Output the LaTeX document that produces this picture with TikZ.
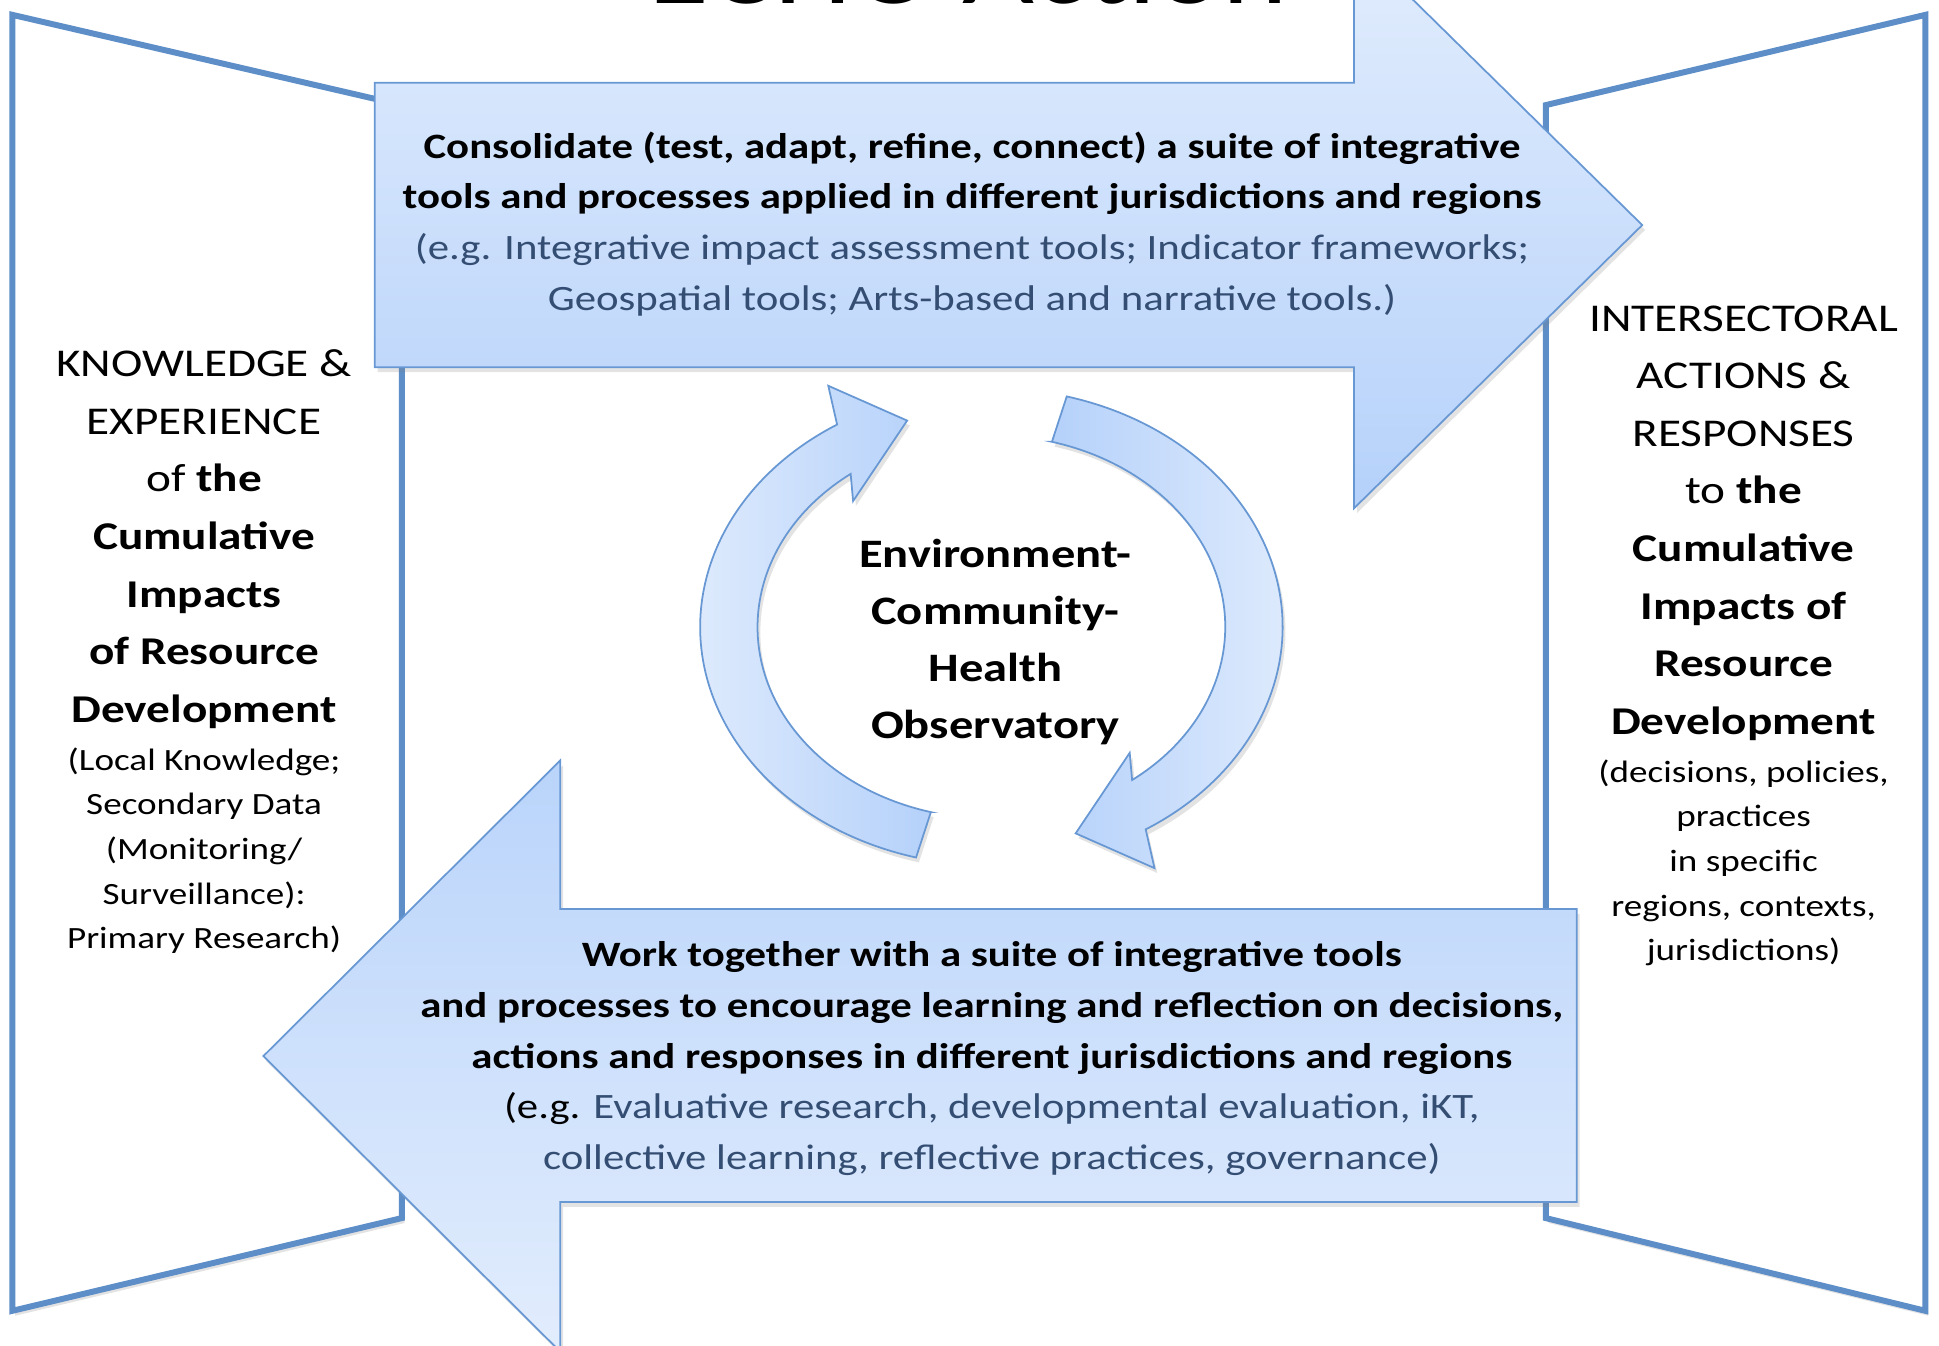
\documentclass[tikz,border=0pt]{standalone}
\usepackage{fontspec}
\setmainfont{Carlito}[FakeStretch=1.2]
\usetikzlibrary{positioning,shadows}

\begin{document}
\begin{tikzpicture}[x=0.12366mm,y=-0.12366mm,
	panel/.style={draw=panelline,line width=1.7pt,fill=white,
		drop shadow={opacity=0.22,shadow xshift=0.8pt,shadow yshift=-1.4pt}},
	bigarrow/.style={draw=arrowline,line width=0.5pt,
		drop shadow={opacity=0.22,shadow xshift=0.8pt,shadow yshift=-1.4pt}},
	arrowtext/.style={align=center,font=\fontsize{10.15}{14.4}\selectfont},
	sidebig/.style={align=center,inner sep=0pt,font=\fontsize{11.2}{16.4}\selectfont},
	sidesmall/.style={align=center,inner sep=0pt,font=\fontsize{8.8}{12.7}\selectfont}]
\definecolor{panelline}{RGB}{93,142,199}
\definecolor{arrowline}{RGB}{104,152,212}
\definecolor{arrowpale}{RGB}{226,237,253}
\definecolor{arrowdeep}{RGB}{181,209,250}
\definecolor{exblue}{RGB}{52,78,115}
	\useasboundingbox (0,0) rectangle (1568,1088);
	% side panels
	\draw[panel] (10,12) -- (325,85) -- (325,985) -- (10,1060) -- cycle;
	\draw[panel] (1557,12) -- (1250,85) -- (1250,985) -- (1557,1060) -- cycle;
	% title, mostly above the page
	\node[anchor=base,font=\fontsize{29.5}{31}\selectfont] (title) at (783,3) {ECHO Action};
	% top arrow, to the right
	\draw[bigarrow,top color=arrowpale,bottom color=arrowdeep]
		(303,67) -- (1095,67) -- (1095,-47) -- (1328,182) -- (1095,411) -- (1095,297) -- (303,297) -- cycle;
	% bottom arrow, to the left
	\draw[bigarrow,top color=arrowdeep!90!arrowpale,bottom color=arrowpale]
		(1275,735) -- (453,735) -- (453,615) -- (213,854) -- (453,1093) -- (453,972) -- (1275,972) -- cycle;
	% observatory cycle
	\foreach \rot/\lc/\rc in {0/arrowpale/arrowdeep,180/arrowdeep/arrowpale}{
		\begin{scope}[shift={(801.7,507)},xscale=1.22]
		\draw[bigarrow,left color=\lc,right color=\rc]
			({105+\rot}:155) -- ({105+\rot}:193)
			arc[start angle=105+\rot,end angle=238+\rot,radius=193]
			-- ({241+\rot}:223) -- ({251.5+\rot}:176) -- ({228+\rot}:137) -- ({233+\rot}:155)
			arc[start angle=233+\rot,end angle=105+\rot,radius=155] -- cycle;
		\end{scope}
	}
	\node[align=center,font=\fontsize{11.5}{16.2}\selectfont\bfseries] (echo) at (805,519)
		{Environment-\\Community-\\Health\\Observatory};
	\node[arrowtext] (consolidate) at (786,181)
		{\textbf{Consolidate (test, adapt, refine, connect) a suite of integrative}\\
		\textbf{tools and processes applied in different jurisdictions and regions}\\
		\textcolor{exblue}{(e.g. Integrative impact assessment tools; Indicator frameworks;}\\
		\textcolor{exblue}{Geospatial tools; Arts-based and narrative tools.)}};
	\node[arrowtext] (worktogether) at (802,856)
		{\textbf{Work together with a suite of integrative tools}\\
		\textbf{and processes to encourage learning and reflection on decisions,}\\
		\textbf{actions and responses in different jurisdictions and regions}\\
		(e.g. \textcolor{exblue}{Evaluative research, developmental evaluation, iKT,}\\
		\textcolor{exblue}{collective learning, reflective practices, governance)}};
	% left panel
	\node[sidebig] (knowledge) at (165,436)
		{KNOWLEDGE \&\\EXPERIENCE\\of \textbf{the}\\\textbf{Cumulative}\\\textbf{Impacts}\\\textbf{of Resource}\\\textbf{Development}};
	\node[sidesmall,below=5pt of knowledge] (sources)
		{(Local Knowledge;\\Secondary Data\\(Monitoring/\\Surveillance):\\Primary Research)};
	% right panel
	\node[sidebig] (actions) at (1410,423)
		{INTERSECTORAL\\ACTIONS \&\\RESPONSES\\to \textbf{the}\\\textbf{Cumulative}\\\textbf{Impacts of}\\\textbf{Resource}\\\textbf{Development}};
	\node[sidesmall,below=5pt of actions] (responses)
		{(decisions, policies,\\practices\\in specific\\regions, contexts,\\jurisdictions)};
\end{tikzpicture}
\end{document}
